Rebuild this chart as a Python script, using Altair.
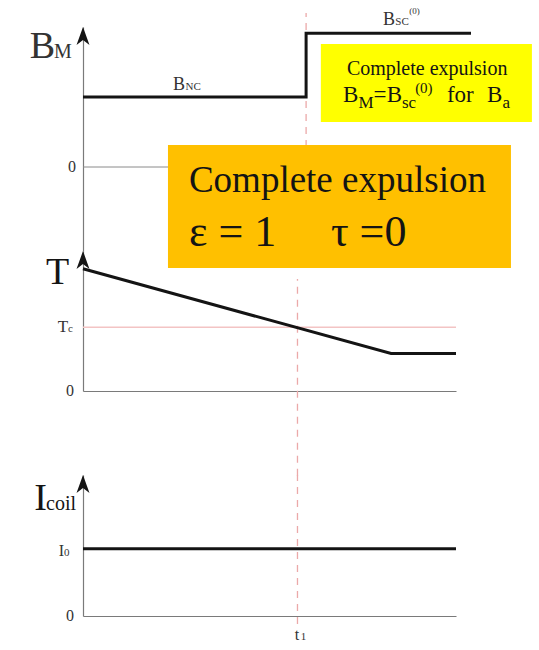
import altair as alt
import pandas as pd

# ---- time axis ------------------------------------------------------------
T1 = 0.575  # field switched / sample passes Tc

# B_M: normal-state value, then full expulsion value after t1
bm_t = [0.0, T1, T1, 1.0]
bm_v = [1.0, 1.0, 1.91, 1.91]

# Temperature: cooled through Tc at t1, then held constant
temp_t = [0.0, 0.826, 1.0]
temp_v = [1.92, 0.59, 0.59]
TC = 1.0

# Coil current held at I0 the whole time
coil_t = [0.0, 1.0]
coil_v = [1.0, 1.0]
I0 = 1.0

# ---- styling --------------------------------------------------------------
SERIF = "Liberation Serif"
INK = "#141414"
LABEL = "#333333"
AXIS_GREY = "#7a7a7a"
DASH_PINK = "#eba9a9"
TC_PINK = "#f3c4c4"
YELLOW = "#ffff00"
AMBER = "#ffc000"
ARROW = "M0,0 L0.36,1 L0,0.72 L-0.36,1 Z"

B_DOM = [-1.2, 2.0]
T_DOM = [0.0, 2.2]
I_DOM = [0.0, 2.1]

xs = alt.Scale(domain=[0, 1], nice=False, zero=False)
y_axis = alt.Axis(title=None, labels=False, ticks=False, grid=False,
                  domain=True, domainColor=AXIS_GREY, domainWidth=1.2)
x_axis = alt.Axis(title=None, labels=False, ticks=False, grid=False,
                  domain=True, domainColor=AXIS_GREY, domainWidth=1.2)


def enc_x(field, xa):
    return alt.X(field, type="quantitative", scale=xs, axis=xa)


def enc_y(field, ysc):
    return alt.Y(field, type="quantitative", scale=ysc, axis=y_axis)


def trace(ts, vs, ysc, xa):
    df = pd.DataFrame({"t": ts, "v": vs, "i": range(len(ts))})
    return alt.Chart(df).mark_line(color=INK, strokeWidth=3, strokeCap="butt").encode(
        x=enc_x("t", xa), y=enc_y("v", ysc), order="i:Q")


def hrule(t0, t1, v, ysc, xa, color, width):
    df = pd.DataFrame({"t0": [t0], "t1": [t1], "v": [v]})
    return alt.Chart(df).mark_rule(color=color, strokeWidth=width).encode(
        x=enc_x("t0", xa), x2="t1", y=enc_y("v", ysc))


def vdash(v0, v1, ysc, xa):
    df = pd.DataFrame({"t": [T1], "v0": [v0], "v1": [v1]})
    return alt.Chart(df).mark_rule(color=DASH_PINK, strokeWidth=1.3,
                                   strokeDash=[7, 6]).encode(
        x=enc_x("t", xa), y=enc_y("v0", ysc), y2="v1")


def arrow(v, ysc, xa):
    df = pd.DataFrame({"t": [0.0], "v": [v]})
    return alt.Chart(df).mark_point(shape=ARROW, size=1296, filled=True,
                                    color=INK, opacity=1, strokeWidth=0).encode(
        x=enc_x("t", xa), y=enc_y("v", ysc))


def box(t0, t1, v0, v1, ysc, xa, color):
    df = pd.DataFrame({"t0": [t0], "t1": [t1], "v0": [v0], "v1": [v1]})
    return alt.Chart(df).mark_rect(color=color, opacity=1).encode(
        x=enc_x("t0", xa), x2="t1", y=enc_y("v0", ysc), y2="v1")


def texts(rows, ysc, xa, align="left", baseline="alphabetic", color=INK):
    df = pd.DataFrame(rows, columns=["t", "v", "label", "fs"])
    return alt.Chart(df).mark_text(align=align, baseline=baseline, font=SERIF,
                                   color=color).encode(
        x=enc_x("t", xa), y=enc_y("v", ysc), text="label:N",
        size=alt.Size("fs:Q", scale=None, legend=None))


# ---- panel 1: magnetisation B_M -------------------------------------------
ys1 = alt.Scale(domain=B_DOM, nice=False, zero=False)
xa1 = None
p1 = alt.layer(
    hrule(0.0, 1.0, 0.0, ys1, xa1, "#8a8a8a", 1),
    vdash(B_DOM[0], 2.2, ys1, xa1),
    trace(bm_t, bm_v, ys1, xa1),
    arrow(B_DOM[1], ys1, xa1),
    texts([(-0.137, 1.557, "B", 38), (-0.075, 1.557, "M", 20),
           (0.232, 1.10, "B", 18), (0.264, 1.10, "NC", 11),
           (0.773, 2.03, "B", 18), (0.805, 2.03, "SC", 11),
           (0.841, 2.19, "(0)", 9)], ys1, xa1, color=LABEL),
    texts([(-0.018, 0.0, "0", 16)], ys1, xa1, align="right", baseline="middle",
          color=LABEL),
    box(0.613, 1.157, 0.643, 1.757, ys1, xa1, YELLOW),
    texts([(0.887, 1.314, "Complete expulsion", 20)], ys1, xa1, align="center"),
    texts([(0.670, 0.929, "B", 23), (0.710, 0.843, "M", 17),
           (0.749, 0.929, "=", 23), (0.783, 0.929, "B", 23),
           (0.822, 0.843, "sc", 17), (0.856, 1.057, "(0)", 15),
           (0.938, 0.929, "for", 23), (1.041, 0.929, "B", 23),
           (1.081, 0.843, "a", 17)], ys1, xa1),
    box(0.219, 1.103, -1.443, 0.314, ys1, xa1, AMBER),
    texts([(0.273, -0.357, "Complete expulsion", 37),
           (0.273, -1.129, "ε = 1", 44),
           (0.639, -1.129, "τ =0", 44)], ys1, xa1),
).properties(width=388, height=224)

# ---- panel 2: temperature --------------------------------------------------
ys2 = alt.Scale(domain=T_DOM, nice=False, zero=False)
p2 = alt.layer(
    hrule(0.0, 1.0, TC, ys2, x_axis, TC_PINK, 1.5),
    vdash(-1.33, 1.76, ys2, x_axis),
    trace(temp_t, temp_v, ys2, x_axis),
    arrow(T_DOM[1], ys2, x_axis),
    texts([(-0.099, 1.68, "T", 38)], ys2, x_axis),
    texts([(-0.040, 0.92, "T", 17)], ys2, x_axis, align="right", color=LABEL),
    texts([(-0.040, 0.92, "c", 11)], ys2, x_axis, color=LABEL),
    texts([(-0.024, 0.0, "0", 16)], ys2, x_axis, align="right", baseline="middle",
          color=LABEL),
).properties(width=373, height=140)

# empty band between the temperature and coil-current panels
gap = alt.Chart(pd.DataFrame({"t": [0.0]})).mark_point(opacity=0).encode(
    x=alt.X("t:Q", axis=None), y=alt.Y("t:Q", axis=None)
).properties(width=373, height=84)

# ---- panel 3: coil current -------------------------------------------------
ys3 = alt.Scale(domain=I_DOM, nice=False, zero=False)
p3 = alt.layer(
    vdash(-0.12, I_DOM[1], ys3, x_axis),
    trace(coil_t, coil_v, ys3, x_axis),
    arrow(I_DOM[1], ys3, x_axis),
    texts([(-0.131, 1.58, "I", 38), (-0.099, 1.58, "coil", 20)], ys3, x_axis),
    texts([(-0.051, 0.896, "I", 16)], ys3, x_axis, align="right", color=LABEL),
    texts([(-0.051, 0.896, "0", 11)], ys3, x_axis, color=LABEL),
    texts([(-0.024, 0.0, "0", 16)], ys3, x_axis, align="right", baseline="middle",
          color=LABEL),
    texts([(0.568, -0.358, "t", 16), (0.584, -0.358, "1", 11)], ys3, x_axis,
          color=LABEL),
).properties(width=373, height=141)

chart = alt.vconcat(p1, p2, gap, p3, spacing=0, bounds="flush").properties(
    padding={"left": 29, "top": 6, "right": 4, "bottom": 4},
    background="white",
).configure_view(stroke=None)

chart.save("out.html", embed_options={"renderer": "svg", "actions": False})
